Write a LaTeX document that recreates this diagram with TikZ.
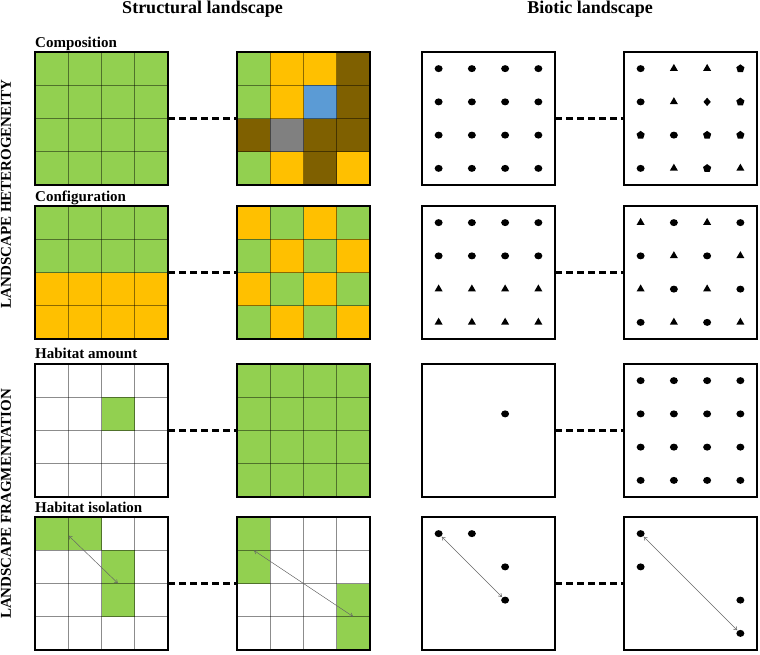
\documentclass[tikz,border=0pt]{standalone}
\usepackage{fontspec}
\setmainfont{Liberation Serif}
\usetikzlibrary{arrows.meta,calc,positioning,shapes.geometric,backgrounds}
\definecolor{grass}{HTML}{92D050}
\definecolor{amber}{HTML}{FFC000}
\definecolor{soil}{HTML}{7F6000}
\definecolor{water}{HTML}{5B9BD5}
\definecolor{rock}{HTML}{808080}

\newcommand{\cellsz}{33.25}

% colour the 4x4 cells of a panel, row by row, then the inner grid
\newcommand{\fillcells}[2]{%
  \begin{scope}[on background layer]
    \foreach \clr [count=\k from 0] in {#2} {
      \pgfmathtruncatemacro{\cx}{mod(\k,4)}
      \pgfmathtruncatemacro{\cy}{floor(\k/4)}
      \fill[\clr] ($(#1.north west)+(\cx*\cellsz,\cy*\cellsz)$) rectangle ++(\cellsz,\cellsz);
    }
    \foreach \i in {1,2,3} {
      \draw[gridline] ($(#1.north west)+(\i*\cellsz,0)$) -- ($(#1.south west)+(\i*\cellsz,0)$);
      \draw[gridline] ($(#1.north west)+(0,\i*\cellsz)$) -- ($(#1.north east)+(0,\i*\cellsz)$);
    }
  \end{scope}}

% one symbol per cell centre, nodes named <panel>-<index>
\newcommand{\placesyms}[2]{%
  \foreach \sym [count=\k from 0] in {#2} {
    \pgfmathtruncatemacro{\cx}{mod(\k,4)}
    \pgfmathtruncatemacro{\cy}{floor(\k/4)}
    \node[\sym] (#1-\k) at ($(#1.north west)+(\cx*\cellsz+0.5*\cellsz,\cy*\cellsz+0.5*\cellsz)$) {};
  }}

\begin{document}
\begin{tikzpicture}[
    x=1pt, y=-1pt,
    panel/.style={draw=black, line width=1.6pt, minimum width=133pt, minimum height=133pt,
      inner sep=0pt, outer sep=0pt, anchor=north west},
    gridline/.style={draw=black, draw opacity=0.45, line width=0.7pt},
    link/.style={line width=2.6pt, dash pattern=on 7pt off 4pt},
    title/.style={font=\fontsize{18}{21}\selectfont\bfseries, inner sep=0pt, anchor=base},
    section/.style={font=\fontsize{15}{17}\selectfont\bfseries, inner sep=0pt, anchor=base west},
    side/.style={font=\fontsize{15}{17}\selectfont\bfseries, inner sep=0pt, rotate=90},
    dot/.style={ellipse, fill=black, inner sep=0pt, minimum width=8pt, minimum height=7pt},
    tri/.style={regular polygon, regular polygon sides=3, fill=black, inner sep=0pt, minimum size=9.4pt},
    pent/.style={regular polygon, regular polygon sides=5, fill=black, inner sep=0pt, minimum size=8.6pt},
    diam/.style={diamond, fill=black, inner sep=0pt, minimum width=7.5pt, minimum height=8.5pt},
    blank/.style={inner sep=0pt},
    isolarrow/.style={{Straight Barb[length=3pt,width=4pt]}-{Straight Barb[length=3pt,width=4pt]},
      draw=black!60, line width=0.5pt, shorten <=0.5pt, shorten >=0.5pt}
  ]
    \useasboundingbox (0,0) rectangle (760,654);

    % panels
    \node[panel] (comp1) at (35,52) {};
    \node[panel, right=69pt of comp1] (comp2) {};
    \node[panel, right=52pt of comp2] (comp3) {};
    \node[panel, right=69pt of comp3] (comp4) {};

    \node[panel, below=21pt of comp1] (conf1) {};
    \node[panel, right=69pt of conf1] (conf2) {};
    \node[panel, right=52pt of conf2] (conf3) {};
    \node[panel, right=69pt of conf3] (conf4) {};

    \node[panel, below=25pt of conf1] (amnt1) {};
    \node[panel, right=69pt of amnt1] (amnt2) {};
    \node[panel, right=52pt of amnt2] (amnt3) {};
    \node[panel, right=69pt of amnt3] (amnt4) {};

    \node[panel, below=20pt of amnt1] (isol1) {};
    \node[panel, right=69pt of isol1] (isol2) {};
    \node[panel, right=52pt of isol2] (isol3) {};
    \node[panel, right=69pt of isol3] (isol4) {};

    % structural landscape cells
    \fillcells{comp1}{grass,grass,grass,grass,grass,grass,grass,grass,grass,grass,grass,grass,grass,grass,grass,grass}
    \fillcells{comp2}{grass,amber,amber,soil,grass,amber,water,soil,soil,rock,soil,soil,grass,amber,soil,amber}
    \fillcells{conf1}{grass,grass,grass,grass,grass,grass,grass,grass,amber,amber,amber,amber,amber,amber,amber,amber}
    \fillcells{conf2}{amber,grass,amber,grass,grass,amber,grass,amber,amber,grass,amber,grass,grass,amber,grass,amber}
    \fillcells{amnt1}{white,white,white,white,white,white,grass,white,white,white,white,white,white,white,white,white}
    \fillcells{amnt2}{grass,grass,grass,grass,grass,grass,grass,grass,grass,grass,grass,grass,grass,grass,grass,grass}
    \fillcells{isol1}{grass,grass,white,white,white,white,grass,white,white,white,grass,white,white,white,white,white}
    \fillcells{isol2}{grass,white,white,white,grass,white,white,white,white,white,white,grass,white,white,white,grass}

    % biotic landscape symbols
    \placesyms{comp3}{dot,dot,dot,dot,dot,dot,dot,dot,dot,dot,dot,dot,dot,dot,dot,dot}
    \placesyms{comp4}{dot,tri,tri,pent,dot,tri,diam,pent,pent,dot,pent,pent,dot,tri,pent,tri}
    \placesyms{conf3}{dot,dot,dot,dot,dot,dot,dot,dot,tri,tri,tri,tri,tri,tri,tri,tri}
    \placesyms{conf4}{tri,dot,tri,dot,dot,tri,dot,tri,tri,dot,tri,dot,dot,tri,dot,tri}
    \placesyms{amnt3}{blank,blank,blank,blank,blank,blank,dot,blank,blank,blank,blank,blank,blank,blank,blank,blank}
    \placesyms{amnt4}{dot,dot,dot,dot,dot,dot,dot,dot,dot,dot,dot,dot,dot,dot,dot,dot}
    \placesyms{isol3}{dot,dot,blank,blank,blank,blank,dot,blank,blank,blank,dot,blank,blank,blank,blank,blank}
    \placesyms{isol4}{dot,blank,blank,blank,dot,blank,blank,blank,blank,blank,blank,dot,blank,blank,blank,dot}

    % headings
    \node[title] (structtitle) at (202.5,13) {Structural landscape};
    \node[title] (biotitle) at (590,13) {Biotic landscape};
    \node[section] (complabel) at ($(comp1.north west)+(0,-5)$) {Composition};
    \node[section] (conflabel) at ($(conf1.north west)+(0,-5)$) {Configuration};
    \node[section] (amntlabel) at ($(amnt1.north west)+(0,-6)$) {Habitat amount};
    \node[section] (isollabel) at ($(isol1.north west)+(0,-5)$) {Habitat isolation};
    \node[side] (hetlabel) at (6,194) {LANDSCAPE HETEROGENEITY};
    \node[side] (fraglabel) at (6,504) {LANDSCAPE FRAGMENTATION};

    % links between paired panels
    \foreach \r in {comp,conf,amnt,isol} {
      \draw[link] (\r1.east) -- (\r2.west);
      \draw[link] (\r3.east) -- (\r4.west);
    }

    % isolation distances
    \coordinate (isol1a) at ($(isol1.north west)+(\cellsz,0.55*\cellsz)$);
    \coordinate (isol1b) at ($(isol1.north west)+(2.5*\cellsz,2*\cellsz)$);
    \coordinate (isol2a) at ($(isol2.north west)+(0.5*\cellsz,\cellsz)$);
    \coordinate (isol2b) at ($(isol2.north west)+(3.5*\cellsz,3*\cellsz)$);
    \draw[isolarrow] (isol1a) -- (isol1b);
    \draw[isolarrow] (isol2a) -- (isol2b);
    \draw[isolarrow] (isol3-0) -- (isol3-10);
    \draw[isolarrow] (isol4-0) -- (isol4-15);
\end{tikzpicture}
\end{document}
